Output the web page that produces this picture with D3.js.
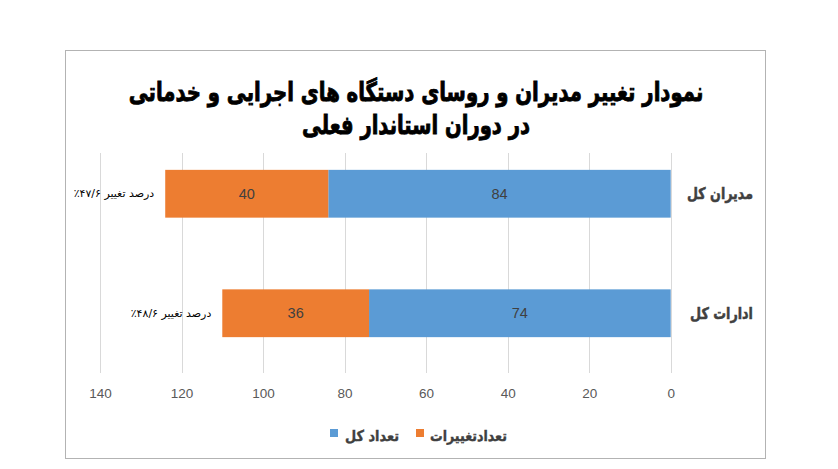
<!DOCTYPE html>
<html><head><meta charset="utf-8">
<script src="https://cdn.jsdelivr.net/npm/d3@7"></script>
<style>html,body{margin:0;padding:0;background:#fff;}svg{display:block;}</style>
</head><body>
<svg id="c" width="838" height="469"></svg>
<script>
// ---- data ----
const categories = ["مدیران کل", "ادارات کل"];
const totalValues = [84, 74];
const changeValues = [40, 36];
const changeNotes = ["درصد تغییر ۴۷/۶٪", "درصد تغییر ۴۸/۶٪"];
const seriesNames = ["تعداد کل", "تعدادتغییرات"];
const tickValues = [0, 20, 40, 60, 80, 100, 120, 140];
const titleLines = ["نمودار تغییر مدیران و روسای دستگاه های اجرایی و خدماتی", "در دوران استاندار فعلی"];

const colors = ["#5B9BD5", "#ED7D31"];
const svg = d3.select("#c");
const faFont = "'DejaVu Sans', sans-serif";
const numFont = "'Liberation Sans', Arial, sans-serif";

// squeeze a text horizontally around its anchor so it spans the given width
function fit(sel, ax, width) {
  const w = sel.node().getBBox().width;
  const k = width / w;
  sel.attr("transform", `translate(${ax},0) scale(${k},1) translate(${-ax},0)`);
}

// frame
svg.append("rect").attr("x", 65.5).attr("y", 50.5).attr("width", 700).attr("height", 408)
  .attr("fill", "#fff").attr("stroke", "#b3b3b3").attr("stroke-width", 1);

// scales
const x = d3.scaleLinear().domain([0, 140]).range([670.7, 100]);
const y = d3.scaleBand().domain(categories).range([134, 373]).paddingInner(0.6).paddingOuter(0.3);

// gridlines
svg.append("g").selectAll("line").data(tickValues).join("line")
  .attr("x1", d => Math.round(x(d)) + 0.5).attr("x2", d => Math.round(x(d)) + 0.5)
  .attr("y1", 153).attr("y2", 373)
  .attr("stroke", "#d9d9d9").attr("stroke-width", 1);

// axis labels via d3 axis
const axis = d3.axisBottom(x).tickValues(tickValues).tickSize(0).tickPadding(0);
const ag = svg.append("g").attr("transform", "translate(0,388)").call(axis);
ag.select(".domain").remove();
ag.selectAll("text").attr("fill", "#595959").attr("font-size", 13.5).attr("font-family", numFont).attr("dy", "0.75em");

// bars
const stacked = categories.map((c, i) => ({cat: c, total: totalValues[i], change: changeValues[i], note: changeNotes[i]}));
const bh = y.bandwidth();
const g = svg.append("g");
const catWidths = [66, 63];
stacked.forEach((d, i) => {
  const yc = y(d.cat);
  g.append("rect").attr("x", x(d.total)).attr("y", yc).attr("width", x(0) - x(d.total)).attr("height", bh).attr("fill", colors[0]);
  g.append("rect").attr("x", x(d.total + d.change)).attr("y", yc).attr("width", x(d.total) - x(d.total + d.change)).attr("height", bh).attr("fill", colors[1]);
  g.append("text").attr("x", (x(0) + x(d.total)) / 2).attr("y", yc + bh / 2).attr("dy", "0.35em")
    .attr("text-anchor", "middle").attr("font-family", numFont).attr("font-size", 14.5).attr("fill", "#404040").text(d.total);
  g.append("text").attr("x", (x(d.total) + x(d.total + d.change)) / 2).attr("y", yc + bh / 2).attr("dy", "0.35em")
    .attr("text-anchor", "middle").attr("font-family", numFont).attr("font-size", 14.5).attr("fill", "#404040").text(d.change);
  const nx = x(d.total + d.change) - 11;
  const nt = g.append("text").attr("x", nx).attr("y", yc + bh / 2).attr("dy", "0.35em")
    .attr("direction", "rtl").attr("text-anchor", "start").attr("font-family", faFont).attr("font-size", 10.5)
    .attr("fill", "#000").text(d.note);
  fit(nt, nx, 81);
  const ct = g.append("text").attr("x", 753).attr("y", yc + bh / 2).attr("dy", "0.35em")
    .attr("direction", "rtl").attr("text-anchor", "start").attr("font-family", faFont).attr("font-weight", "bold")
    .attr("font-size", 16).attr("fill", "#404040").attr("stroke", "#404040").attr("stroke-width", 0.5).text(d.cat);
  fit(ct, 753, catWidths[i]);
});

// title
const titleWidths = [575, 228];
svg.append("g").selectAll("text").data(titleLines).join("text")
  .attr("x", 416).attr("y", (d, i) => 92 + i * 33).attr("dy", "0.35em")
  .attr("text-anchor", "middle").attr("direction", "rtl")
  .attr("font-family", faFont).attr("font-weight", "bold").attr("font-size", 26).attr("fill", "#000")
  .attr("stroke", "#000").attr("stroke-width", 0.9)
  .text(d => d)
  .each(function(d, i) { fit(d3.select(this), 416, titleWidths[i]); });

// legend
const legendItems = [
  {name: seriesNames[0], color: colors[0], sx: 330, tx: 399, w: 54},
  {name: seriesNames[1], color: colors[1], sx: 416, tx: 507, w: 77}
];
const lg = svg.append("g");
legendItems.forEach(it => {
  lg.append("rect").attr("x", it.sx).attr("y", 429).attr("width", 8).attr("height", 8).attr("fill", it.color);
  const t = lg.append("text").attr("x", it.tx).attr("y", 436).attr("dy", "0.35em")
    .attr("direction", "rtl").attr("text-anchor", "start").attr("font-family", faFont).attr("font-weight", "bold")
    .attr("font-size", 15).attr("fill", "#404040").attr("stroke", "#404040").attr("stroke-width", 0.4).text(it.name);
  fit(t, it.tx, it.w);
});
</script>
</body></html>
